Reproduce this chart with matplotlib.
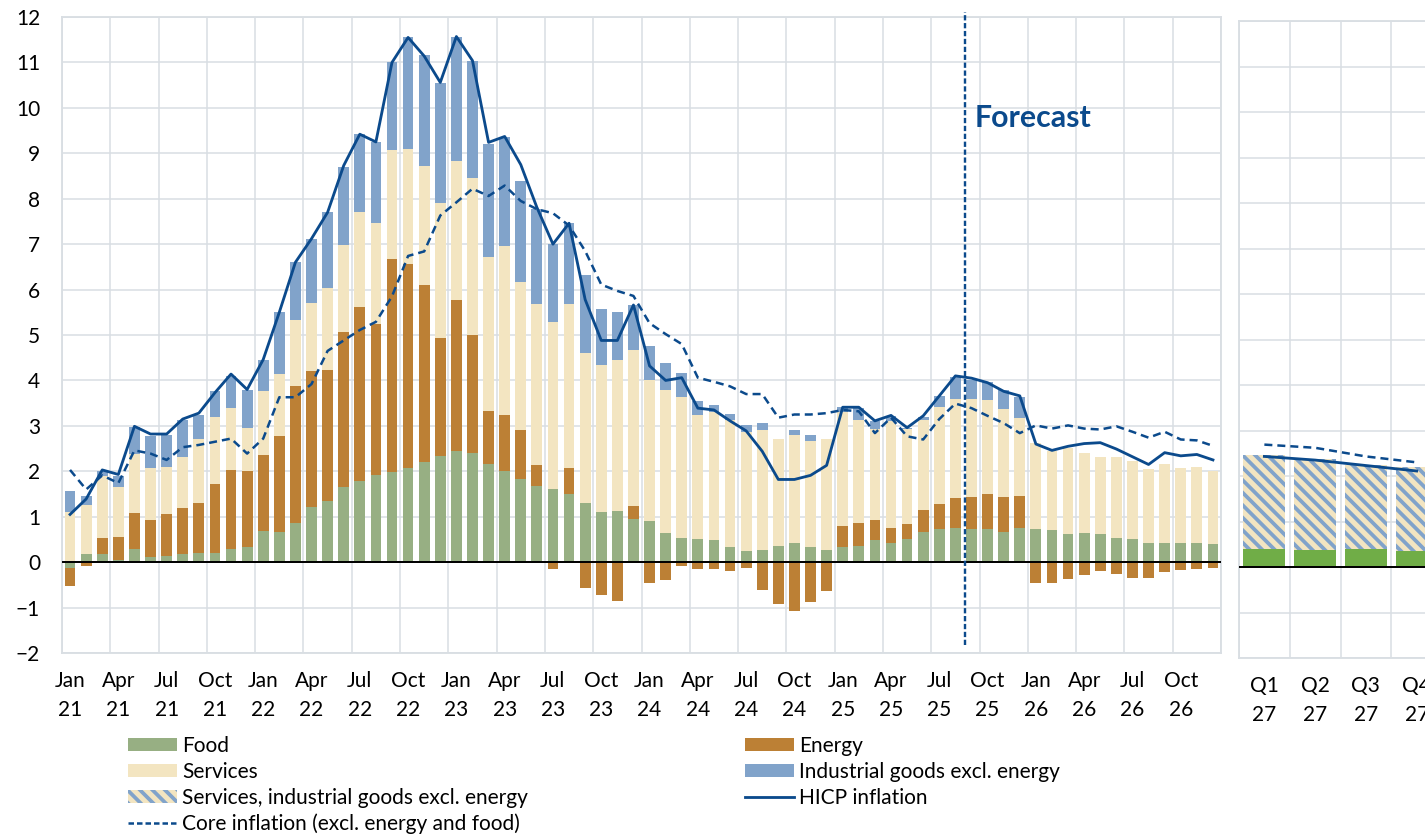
import matplotlib
matplotlib.use("Agg")
import matplotlib.pyplot as plt
import numpy as np
from matplotlib.patches import Patch
from matplotlib.lines import Line2D

# Monthly contributions, Jan 2021 - Dec 2026 (percentage points)
food = [-0.12, 0.17, 0.19, 0.04, 0.29, 0.11, 0.14, 0.17, 0.20, 0.20, 0.28, 0.33,
        0.69, 0.67, 0.86, 1.22, 1.34, 1.65, 1.79, 1.92, 1.99, 2.07, 2.20, 2.34,
        2.44, 2.41, 2.17, 2.00, 1.84, 1.67, 1.60, 1.51, 1.31, 1.10, 1.13, 0.96,
        0.91, 0.64, 0.54, 0.50, 0.48, 0.33, 0.24, 0.27, 0.35, 0.43, 0.33, 0.26,
        0.33, 0.35, 0.48, 0.43, 0.50, 0.66, 0.72, 0.75, 0.72, 0.72, 0.67, 0.76,
        0.74, 0.70, 0.62, 0.64, 0.62, 0.53, 0.50, 0.43, 0.43, 0.43, 0.43, 0.41]
energy = [-0.41, -0.08, 0.34, 0.52, 0.79, 0.81, 0.91, 1.03, 1.10, 1.52, 1.75, 1.67,
          1.66, 2.11, 3.02, 2.98, 2.89, 3.42, 3.82, 3.32, 4.68, 4.50, 3.91, 2.60,
          3.34, 2.59, 1.15, 1.25, 1.06, 0.46, -0.16, 0.56, -0.57, -0.72, -0.85, 0.28,
          -0.46, -0.39, -0.08, -0.16, -0.15, -0.19, -0.12, -0.62, -0.93, -1.08, -0.87, -0.63,
          0.46, 0.51, 0.45, 0.32, 0.34, 0.48, 0.57, 0.66, 0.71, 0.79, 0.76, 0.70,
          -0.45, -0.47, -0.38, -0.28, -0.20, -0.27, -0.35, -0.35, -0.22, -0.17, -0.14, -0.13]
services = [1.10, 1.09, 1.37, 1.09, 1.30, 1.16, 1.05, 1.11, 1.40, 1.48, 1.37, 0.96,
            1.41, 1.37, 1.44, 1.50, 1.80, 1.91, 2.09, 2.22, 2.41, 2.53, 2.61, 2.97,
            3.06, 3.46, 3.40, 3.72, 3.27, 3.56, 3.68, 3.62, 3.30, 3.25, 3.32, 3.44,
            3.11, 3.16, 3.09, 2.75, 2.82, 2.80, 2.63, 2.63, 2.37, 2.37, 2.33, 2.46,
            2.51, 2.27, 2.00, 2.36, 2.08, 1.99, 2.12, 2.19, 2.17, 2.05, 1.94, 1.72,
            1.89, 1.74, 1.89, 1.77, 1.70, 1.79, 1.72, 1.63, 1.72, 1.65, 1.67, 1.60]
industrial = [0.46, 0.20, 0.10, 0.25, 0.59, 0.70, 0.70, 0.82, 0.54, 0.56, 0.70, 0.83,
              0.70, 1.35, 1.28, 1.42, 1.67, 1.72, 1.72, 1.79, 1.93, 2.47, 2.45, 2.63,
              2.73, 2.58, 2.49, 2.38, 2.23, 2.08, 1.72, 1.77, 1.72, 1.22, 1.05, 0.98,
              0.74, 0.58, 0.53, 0.30, 0.17, 0.14, 0.14, 0.16, 0.00, 0.10, 0.13, 0.00,
              0.11, 0.26, 0.18, 0.11, 0.04, 0.07, 0.25, 0.48, 0.42, 0.41, 0.41, 0.45,
              0, 0, 0, 0, 0, 0, 0, 0, 0, 0, 0, 0]
hicp = [1.05, 1.39, 2.03, 1.93, 2.99, 2.82, 2.82, 3.15, 3.28, 3.73, 4.14, 3.80,
        4.46, 5.50, 6.60, 7.12, 7.70, 8.73, 9.42, 9.25, 11.00, 11.55, 11.14, 10.56,
        11.57, 11.04, 9.24, 9.37, 8.75, 7.81, 7.00, 7.46, 5.78, 4.88, 4.88, 5.66,
        4.32, 4.00, 4.06, 3.39, 3.35, 3.11, 2.89, 2.44, 1.82, 1.82, 1.91, 2.13,
        3.41, 3.41, 3.11, 3.23, 2.96, 3.22, 3.66, 4.10, 4.05, 3.95, 3.76, 3.66,
        2.60, 2.46, 2.55, 2.61, 2.63, 2.49, 2.32, 2.15, 2.41, 2.34, 2.37, 2.25]
core = [2.03, 1.60, 1.91, 1.74, 2.46, 2.39, 2.25, 2.53, 2.58, 2.65, 2.72, 2.39,
        2.72, 3.63, 3.63, 3.92, 4.65, 4.88, 5.11, 5.29, 5.85, 6.74, 6.84, 7.63,
        7.92, 8.22, 8.06, 8.29, 7.95, 7.77, 7.68, 7.41, 6.85, 6.11, 5.97, 5.86,
        5.26, 5.02, 4.80, 4.06, 3.97, 3.87, 3.70, 3.70, 3.18, 3.25, 3.25, 3.28,
        3.35, 3.32, 2.84, 3.18, 2.77, 2.70, 3.15, 3.49, 3.39, 3.22, 3.06, 2.84,
        3.01, 2.94, 3.01, 2.94, 2.92, 2.99, 2.87, 2.74, 2.87, 2.70, 2.68, 2.56]

month_names = ['Jan', 'Apr', 'Jul', 'Oct']
years = ['21', '22', '23', '24', '25', '26']
forecast_start = 55.6  # between Aug 25 and Sep 25

# Quarterly 2027
quarters = ['Q1\n27', 'Q2\n27', 'Q3\n27', 'Q4\n27']
q_food = [0.39, 0.37, 0.39, 0.36]
q_core_goods = [2.07, 2.01, 1.86, 1.84]
q_hicp = [2.43, 2.35, 2.23, 2.11]
q_core = [2.69, 2.62, 2.43, 2.30]

C_FOOD = '#97AF83'
C_ENERGY = '#BC8035'
C_SERV = '#F3E5C1'
C_IND = '#81A3CA'
C_LINE = '#0B4A8C'
C_GRID = '#D9DEE3'
C_QFOOD = '#70AD47'

plt.rcParams['font.family'] = ['Lato', 'DejaVu Sans']
plt.rcParams['hatch.linewidth'] = 3.6

fig = plt.figure(figsize=(19, 835 / 75), dpi=75)
ax = fig.add_axes([62 / 1425, 1 - 653 / 835, (1221 - 62) / 1425, 636 / 835])
axq = fig.add_axes([1239 / 1425, 1 - 658 / 835, 203 / 1425, 637 / 835])

x = np.arange(len(food))
width = 0.67
pos_base = np.zeros(len(x))
neg_base = np.zeros(len(x))
for vals, col in [(food, C_FOOD), (energy, C_ENERGY), (services, C_SERV), (industrial, C_IND)]:
    v = np.array(vals)
    p = np.where(v > 0, v, 0)
    n = np.where(v < 0, v, 0)
    ax.bar(x, p, width, bottom=pos_base, color=col, linewidth=0, zorder=2)
    ax.bar(x, n, width, bottom=neg_base, color=col, linewidth=0, zorder=2)
    pos_base += p
    neg_base += n

ax.plot(x, hicp, color=C_LINE, lw=2.7, zorder=4)
ax.plot(x, core, color=C_LINE, lw=2.4, ls=(0, (3.2, 2.0)), zorder=4)
ax.axhline(0, color='black', lw=1.9, zorder=3)
ax.plot([forecast_start, forecast_start], [-1.82, 12.1], color=C_LINE, lw=2.3,
        ls=(0, (2.2, 1.1)), zorder=5, clip_on=False)
ax.text(56.2, 9.58, 'Forecast', color=C_LINE, fontsize=29, fontweight='bold',
        va='baseline', ha='left', zorder=6)

ticks = list(range(0, 72, 3))
labels = [f'{month_names[i % 4]}\n{years[i // 4]}' for i in range(len(ticks))]
ax.set_xticks(ticks)
ax.set_xticklabels(labels, linespacing=1.6)
ax.set_xticks(np.arange(-0.5, 72, 3), minor=True)
ax.set_xlim(-0.5, 71.5)
ax.set_ylim(-2, 12)
ax.set_yticks(range(-2, 13))

# quarterly panel
xq = np.arange(len(quarters))
axq.bar(xq, q_food, 0.83, color=C_QFOOD, linewidth=0, zorder=2)
axq.bar(xq, q_core_goods, 0.83, bottom=q_food, facecolor=C_SERV, edgecolor=C_IND,
        hatch='\\\\', linewidth=0, zorder=2)
axq.plot(xq, q_hicp, color=C_LINE, lw=2.7, zorder=4)
axq.plot(xq, q_core, color=C_LINE, lw=2.4, ls=(0, (3.2, 2.0)), zorder=4)
axq.axhline(0, color='black', lw=1.9, zorder=3)
axq.set_xticks(xq)
axq.set_xticklabels(quarters, linespacing=1.6)
axq.set_xticks(np.arange(-0.5, 4, 1), minor=True)
axq.set_xlim(-0.5, 3.5)
axq.set_ylim(-2, 12)
axq.set_yticks(range(-2, 13))
axq.set_yticklabels([])

for a in (ax, axq):
    a.set_axisbelow(True)
    a.grid(True, axis='y', color=C_GRID, lw=1.5)
    a.grid(True, axis='x', which='minor', color=C_GRID, lw=1.5)
    a.tick_params(which='both', length=0, labelsize=20)
    a.tick_params(axis='x', pad=17)
    a.tick_params(axis='y', pad=21)
    for s in a.spines.values():
        s.set_color(C_GRID)
        s.set_linewidth(1.8)

# legend
h_food = Patch(facecolor=C_FOOD, lw=0)
h_serv = Patch(facecolor=C_SERV, lw=0)
h_hatch = Patch(facecolor=C_SERV, edgecolor=C_IND, hatch='\\\\', lw=0)
h_core = Line2D([], [], color=C_LINE, lw=2.4, ls=(0, (2.2, 1.2)))
h_energy = Patch(facecolor=C_ENERGY, lw=0)
h_ind = Patch(facecolor=C_IND, lw=0)
h_hicp = Line2D([], [], color=C_LINE, lw=2.7)

leg_kw = dict(loc='upper left', frameon=False, fontsize=20, borderpad=0, borderaxespad=0,
              handlelength=2.35, handleheight=0.6, handletextpad=0.25, labelspacing=0.28)
fig.legend([h_food, h_serv, h_hatch, h_core],
           ['Food', 'Services', 'Services, industrial goods excl. energy',
            'Core inflation (excl. energy and food)'],
           bbox_to_anchor=(128 / 1425, 1 - 736 / 835), **leg_kw)
fig.legend([h_energy, h_ind, h_hicp],
           ['Energy', 'Industrial goods excl. energy', 'HICP inflation'],
           bbox_to_anchor=(745 / 1425, 1 - 736 / 835), **leg_kw)

fig.savefig('out.png', dpi=75)
